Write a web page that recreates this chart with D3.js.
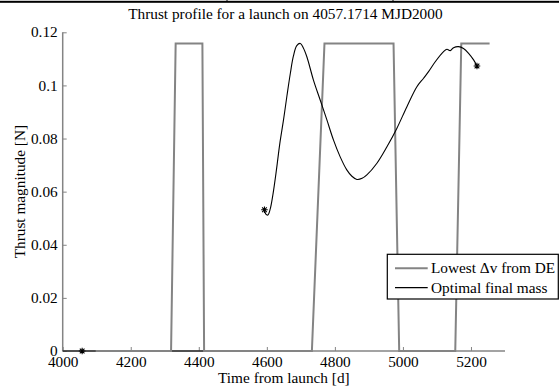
<!DOCTYPE html>
<html>
<head>
<meta charset="utf-8">
<script src="https://cdn.jsdelivr.net/npm/d3@7"></script>
<style>
  html, body { margin: 0; padding: 0; background: #fff; }
  svg { display: block; }
  svg text { font-family: "Liberation Serif", "Times New Roman", serif; }
</style>
</head>
<body>
<svg id="chart" width="559" height="389"></svg>
<script>
// Thrust profile data (time from launch in days, thrust in N)
const titleText = "Thrust profile for a launch on 4057.1714 MJD2000";
const xLabel = "Time from launch [d]";
const yLabel = "Thrust magnitude [N]";
const seriesNames = ["Lowest \u0394v from DE", "Optimal final mass"];

const xTicks = [4000, 4200, 4400, 4600, 4800, 5000, 5200];
const yTicks = [0, 0.02, 0.04, 0.06, 0.08, 0.1, 0.12];
const yTickLabels = ["0", "0.02", "0.04", "0.06", "0.08", "0.1", "0.12"];

// Bang-bang profile from the differential-evolution solution
const deDays =   [4097, 4318.5, 4332,   4410.6, 4415.6, 4732.4, 4769.4, 4972.4, 4989, 5153.8, 5171.5, 5254.7];
const deThrust = [0,    0,      0.1158, 0.1158, 0,      0,      0.1158, 0.1158, 0,    0,      0.1158, 0.1158];

// Optimal final mass: coast arc at zero thrust, then continuous thrust arc
const coastDays =   [4000, 4593];
const coastThrust = [0, 0];

const optDays = [4593, 4597, 4603, 4610, 4618, 4628, 4638, 4649, 4659, 4669, 4678, 4688, 4698.5,
  4707, 4717.6, 4737, 4756.8, 4776.5, 4796, 4815.6, 4835, 4850, 4864.7, 4880, 4894, 4923.5, 4953,
  4982, 5011.7, 5041, 5060.6, 5075.3, 5095, 5119.4, 5129.4, 5139, 5148.8, 5163.5, 5178, 5193, 5207.7, 5217.6];
const optThrust = [0.0532, 0.0515, 0.0512, 0.0535, 0.0590, 0.0680, 0.0780, 0.0870, 0.0960, 0.1045, 0.1110, 0.1150, 0.1158,
  0.1142, 0.1108, 0.1020, 0.0945, 0.0870, 0.0794, 0.0731, 0.0682, 0.0658, 0.0646, 0.0650, 0.0663, 0.0707, 0.0769,
  0.0838, 0.0920, 0.0995, 0.1027, 0.1052, 0.1089, 0.1127, 0.1136, 0.1131, 0.1142, 0.1146, 0.1139, 0.1121, 0.1096, 0.1073];

// Event markers (launch, start and end of the thrust arc)
const markerDays =   [4057.17, 4593, 5217.6];
const markerThrust = [0, 0.0532, 0.1073];

const svg = d3.select("#chart");
const W = 559, H = 389;
const mLeft = 62.7, mRight = 505, mTop = 32.3, mBottom = 351;
const gray = "#848484";
const fontSize = 15.3;

const x = d3.scaleLinear().domain([4000, 5300]).range([mLeft, mRight]);
const y = d3.scaleLinear().domain([0, 0.12]).range([mBottom, mTop]);

// Top rule
svg.append("rect").attr("x", 0).attr("y", 0.8).attr("width", W).attr("height", 2).attr("fill", "#000");
[227, 393].forEach(px => svg.append("line").attr("x1", px).attr("x2", px).attr("y1", 0).attr("y2", 1)
  .attr("stroke", "#000").attr("stroke-width", 1));

// Axes: ticks point into the plot, no box
const xAxis = d3.axisBottom(x).tickValues(xTicks).tickSize(-4).tickPadding(6).tickFormat(d3.format("d"));
const yAxis = d3.axisLeft(y).tickValues(yTicks).tickSize(-4).tickPadding(5).tickFormat((d, i) => yTickLabels[i]);

const gx = svg.append("g").attr("transform", `translate(0,${mBottom})`).call(xAxis);
const gy = svg.append("g").attr("transform", `translate(${mLeft},0)`).call(yAxis);
[gx, gy].forEach(g => {
  g.attr("font-family", null).attr("font-size", fontSize);
  g.select(".domain").attr("stroke", gray).attr("stroke-width", 1.5);
  g.selectAll(".tick line").attr("stroke", gray).attr("stroke-width", 1);
  g.selectAll(".tick text").attr("fill", "#000");
});
gx.select(".domain").attr("d", `M${mLeft},0H${mRight}`);
gy.select(".domain").attr("d", `M0,${mBottom}V${mTop}`);
gx.selectAll(".tick text").attr("dy", "0.68em");
gy.selectAll(".tick text").attr("dy", "0.3em");

const line = d3.line().x(d => x(d[0])).y(d => y(d[1]));

// Coast arc of the optimal solution (under the DE profile)
svg.append("path").datum(d3.zip(coastDays, coastThrust)).attr("d", line)
  .attr("fill", "none").attr("stroke", "#000").attr("stroke-width", 1.2);

// DE profile
svg.append("path").datum(d3.zip(deDays, deThrust)).attr("d", line)
  .attr("fill", "none").attr("stroke", gray).attr("stroke-width", 2).attr("stroke-linejoin", "miter");

// Optimal thrust arc
svg.append("path").datum(d3.zip(optDays, optThrust)).attr("d", line.curve(d3.curveCatmullRom))
  .attr("fill", "none").attr("stroke", "#000").attr("stroke-width", 1.1);

// Asterisk markers
const star = r => {
  const a = r * Math.SQRT1_2;
  return `M${-r},0H${r}M0,${-r}V${r}M${-a},${-a}L${a},${a}M${-a},${a}L${a},${-a}`;
};
svg.selectAll(".marker").data(d3.zip(markerDays, markerThrust)).join("path")
  .attr("class", "marker")
  .attr("transform", d => `translate(${x(d[0])},${y(d[1])})`)
  .attr("d", star(3.3)).attr("stroke", "#000").attr("stroke-width", 1.1).attr("fill", "none");

// Title and axis labels
svg.append("text").attr("x", (mLeft + mRight) / 2 + 1.5).attr("y", 19).attr("text-anchor", "middle")
  .attr("font-size", fontSize).text(titleText);
svg.append("text").attr("x", (mLeft + mRight) / 2).attr("y", 383).attr("text-anchor", "middle")
  .attr("font-size", fontSize).text(xLabel);
svg.append("text").attr("transform", `translate(25,${(mTop + mBottom) / 2}) rotate(-90)`)
  .attr("text-anchor", "middle").attr("font-size", fontSize).text(yLabel);

// Legend
const lg = svg.append("g");
lg.append("rect").attr("x", 387.3).attr("y", 254.3).attr("width", 171).attr("height", 44.7)
  .attr("fill", "#fff").attr("stroke", "#000").attr("stroke-width", 1.2);
const legendColors = [gray, "#000"];
const legendWidths = [2, 1.2];
seriesNames.forEach((name, i) => {
  const ly = 268.3 + i * 19.4;
  lg.append("line").attr("x1", 395).attr("x2", 427.7).attr("y1", ly).attr("y2", ly)
    .attr("stroke", legendColors[i]).attr("stroke-width", legendWidths[i]);
  lg.append("text").attr("x", 431).attr("y", ly + 5).attr("font-size", fontSize).text(name);
});
</script>
</body>
</html>
